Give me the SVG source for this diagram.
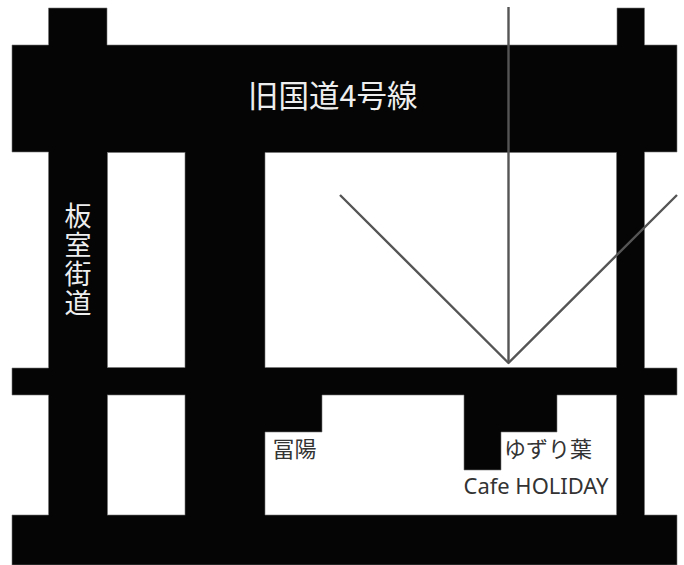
<svg xmlns="http://www.w3.org/2000/svg" width="684" height="565" viewBox="0 0 684 565">
<style>
.road{fill:#050505;stroke:#777;stroke-width:.6}
.blk{fill:#fff;stroke:#777;stroke-width:.6}
.ln{fill:none;stroke:#555;stroke-width:2.4;stroke-linejoin:round}
text{font-family:"Noto Sans CJK JP","Noto Sans",sans-serif}
.w{fill:#eee}
.d{fill:#333;font-size:22px}
</style>
<rect width="684" height="565" fill="#fff"/>
<g id="roads">
<path class="road" d="M48.500 8H107V45H617V8H644.500V45H677V152H644.500V368H677V395H644.500V515H677V565H12V515H48.500V395H12V368H48.500V152H12V45H48.500Z"/>
<rect class="blk" x="107.500" y="152.500" width="77.500" height="215"/>
<rect class="blk" x="107.500" y="395" width="77.500" height="120"/>
<path class="blk" d="M265 152.500H616.500V367.500H265Z"/>
<path class="blk" d="M265 432H322V395H464V470H501V432H557V395H616.500V515H265Z"/>
</g>
<g id="connectors">
<path class="ln" d="M508.500 7V363"/>
<path class="ln" d="M340 195L508.500 363L677 195"/>
</g>
<g id="node-kyu"><text class="w" x="248" y="107" font-size="30.500">旧国道4号線</text></g>
<g id="node-itamuro"><text class="w" x="78" y="202" font-size="27" letter-spacing="2" style="writing-mode:vertical-rl">板室街道</text></g>
<g id="node-fuyo"><text class="d" x="272.500" y="457">冨陽</text></g>
<g id="node-yuzuriha"><text class="d" x="504" y="457">ゆずり葉</text></g>
<g id="node-cafe"><text class="d" x="463.500" y="494" style="font-family:'Noto Sans',sans-serif" textLength="145" lengthAdjust="spacingAndGlyphs">Cafe HOLIDAY</text></g>
</svg>
